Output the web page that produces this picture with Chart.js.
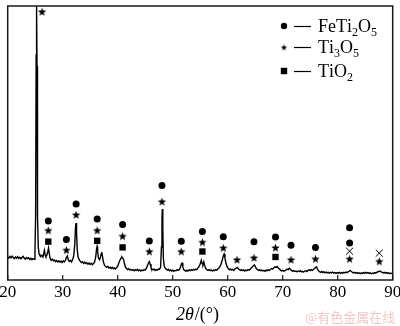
<!DOCTYPE html>
<html><head><meta charset="utf-8">
<script src="https://cdn.jsdelivr.net/npm/chart.js@4"></script>
<style>html,body{margin:0;padding:0;background:#fff}#c{display:block}</style>
</head><body>
<canvas id="c" width="400" height="326"></canvas>
<script>
// ---- XRD pattern (2θ in degrees, intensity in arbitrary units) ----
const twoTheta = [
20.00,20.20,20.40,20.60,20.80,21.00,21.20,21.40,21.60,21.80,
22.00,22.20,22.40,22.60,22.80,23.00,23.20,23.40,23.60,23.80,
24.00,24.20,24.40,24.60,24.80,24.95,25.08,25.17,25.22,25.28,
25.33,25.42,25.56,25.70,25.85,26.00,26.20,26.40,26.55,26.68,
26.80,26.95,27.10,27.30,27.42,27.55,27.70,27.90,28.10,28.30,
28.50,28.70,28.90,29.10,29.30,29.50,29.70,29.90,30.10,30.30,
30.50,30.70,30.85,31.00,31.20,31.40,31.60,31.80,32.00,32.20,
32.32,32.42,32.52,32.65,32.80,33.00,33.20,33.40,33.60,33.80,
34.00,34.20,34.40,34.60,34.80,35.00,35.20,35.40,35.60,35.80,
36.00,36.15,36.25,36.35,36.50,36.70,36.85,37.00,37.10,37.22,
37.40,37.60,37.80,38.00,38.20,38.40,38.60,38.80,39.00,39.20,
39.40,39.60,39.80,40.00,40.20,40.40,40.60,40.75,40.90,41.05,
41.20,41.40,41.60,41.80,42.00,42.20,42.40,42.60,42.80,43.00,
43.20,43.40,43.60,43.80,44.00,44.20,44.40,44.60,44.80,45.00,
45.20,45.40,45.60,45.75,45.90,46.05,46.20,46.40,46.60,46.80,
47.00,47.20,47.40,47.60,47.80,47.95,48.05,48.12,48.20,48.30,
48.45,48.60,48.80,49.00,49.20,49.40,49.60,49.80,50.00,50.20,
50.40,50.60,50.80,51.00,51.20,51.40,51.60,51.72,51.85,52.00,
52.20,52.40,52.60,52.80,53.00,53.20,53.40,53.60,53.80,54.00,
54.20,54.40,54.60,54.80,55.00,55.20,55.35,55.50,55.65,55.80,
56.00,56.20,56.40,56.60,56.80,57.00,57.20,57.40,57.60,57.80,
58.00,58.20,58.40,58.60,58.80,59.00,59.20,59.35,59.50,59.70,
59.90,60.10,60.30,60.50,60.70,60.90,61.10,61.30,61.50,61.70,
61.90,62.10,62.30,62.50,62.70,62.90,63.10,63.30,63.50,63.70,
63.90,64.10,64.30,64.50,64.70,64.85,65.00,65.20,65.40,65.60,
65.80,66.00,66.20,66.40,66.60,66.80,67.00,67.20,67.40,67.60,
67.80,68.00,68.20,68.40,68.60,68.80,69.00,69.20,69.40,69.60,
69.80,70.00,70.20,70.40,70.60,70.80,71.00,71.20,71.40,71.60,
71.80,72.00,72.20,72.40,72.60,72.80,73.00,73.20,73.40,73.60,
73.80,74.00,74.20,74.40,74.60,74.80,75.00,75.20,75.40,75.60,
75.80,76.00,76.15,76.30,76.50,76.70,76.90,77.10,77.30,77.50,
77.70,77.90,78.10,78.30,78.50,78.70,78.90,79.10,79.30,79.50,
79.70,79.90,80.10,80.30,80.50,80.70,80.90,81.10,81.30,81.50,
81.70,81.90,82.10,82.30,82.50,82.70,82.90,83.10,83.30,83.50,
83.70,83.90,84.10,84.30,84.50,84.70,84.90,85.10,85.30,85.50,
85.70,85.90,86.10,86.30,86.50,86.70,86.90,87.10,87.30,87.50,
87.70,87.90,88.10,88.30,88.50,88.70,88.90,89.10,89.30,89.50,
89.70,90.00];
const intensity = [
84,80,86,81,87,82,78,84,80,85,
79,83,77,82,86,80,76,82,78,81,
75,79,74,78,76,92,240,820,1000,1000,
780,230,120,96,90,86,90,84,96,108,
92,86,90,104,116,98,80,72,76,70,
73,67,71,66,70,65,69,64,70,66,
72,84,88,74,68,72,66,74,88,130,
190,208,170,110,84,74,68,64,67,61,
65,60,63,58,62,57,61,56,60,66,
84,112,122,104,80,74,82,96,102,88,
66,54,49,46,50,44,47,42,46,41,
44,40,45,50,62,72,80,84,80,76,
62,48,42,38,41,36,39,35,38,34,
38,35,39,34,37,33,36,34,38,36,
42,52,62,67,58,46,40,37,40,35,
38,36,40,39,46,120,230,259,190,80,
52,44,40,36,39,34,37,33,36,32,
35,34,38,35,38,46,60,62,48,38,
35,32,36,33,37,34,38,35,39,36,
40,38,44,50,58,72,60,56,66,54,
42,38,35,38,34,37,33,36,34,38,
36,40,44,50,58,72,88,95,80,60,
48,42,37,40,36,39,35,40,43,46,
42,38,35,38,34,37,33,36,34,38,
36,40,44,48,52,55,50,42,38,35,
37,34,36,33,35,32,36,34,37,35,
39,42,40,45,48,46,49,44,40,36,
33,35,32,34,36,40,38,43,39,35,
32,34,31,33,30,33,31,34,30,32,
29,32,34,31,35,37,34,38,35,39,
42,46,48,41,34,30,28,31,27,30,
26,29,26,28,25,28,26,29,25,27,
24,27,25,28,24,27,25,28,26,29,
27,30,32,34,31,28,26,28,25,27,
24,26,23,26,24,27,25,28,25,27,
24,26,23,25,24,27,25,28,30,31,
33,30,28,26,28,25,27,24,26,23,
25,24];

// ---- phase markers (2θ position, height at which the symbol sits) ----
const circleAngles  = [27.38,30.67,32.44,36.27,40.89,45.75,48.05,51.56,55.40,59.20,64.78,68.69,71.51,75.96,82.16,82.16];
const circleHeights = [215,148,277,223,203,142,345,141,177,158,140,157,127,119,191,135];
const starAngles    = [26.24,27.38,30.67,32.44,36.27,40.89,45.75,48.05,51.56,55.40,59.20,61.69,64.78,68.69,71.51,75.96,82.16,87.56];
const starHeights   = [980,182,110,239,182,161,105,287,105,139,118,75,82,119,75,78,78,69];
const squareAngles  = [27.38,36.27,40.89,55.40,68.69];
const squareHeights = [140,143,119,104,84];
const crossAngles   = [82.16,87.56];
const crossHeights  = [105,98];

const xTicks = [20,30,40,50,60,70,80,90];
const phaseNames = ['FeTi2O5','Ti3O5','TiO2'];
const phaseSymbols = ['circle','star','square'];
const xTitleItalic = '2\u03B8';
const xTitleRest = '/(\u00B0)';
const watermark = '@有色金属在线';

const SERIF = '"Liberation Serif","Times New Roman",serif';

function starImage(r){
  const s = Math.ceil(r*2+2);
  const c = document.createElement('canvas'); c.width = s; c.height = s;
  const g = c.getContext('2d'); g.fillStyle = '#000'; g.beginPath();
  for (let i=0;i<10;i++){
    const rad = (i%2) ? r*0.42 : r;
    const a = -Math.PI/2 + i*Math.PI/5;
    g.lineTo(s/2 + rad*Math.cos(a), s/2 + 0.6 + rad*Math.sin(a));
  }
  g.closePath(); g.fill();
  return c;
}
const STAR = starImage(4.4);
const STAR_SMALL = starImage(3.4);

const pts = (xs, ys) => xs.map((x,i)=>({x:x, y:ys[i]}));

const decor = {
  id:'decor',
  afterDraw(chart){
    const ctx = chart.ctx, a = chart.chartArea, xs = chart.scales.x;
    ctx.save();
    // frame
    ctx.strokeStyle = '#1a1a1a'; ctx.lineWidth = 1.5;
    ctx.strokeRect(a.left, a.top, a.right-a.left, a.bottom-a.top);
    // inward ticks
    ctx.lineWidth = 1.2;
    xTicks.forEach(v=>{
      const x = xs.getPixelForValue(v);
      ctx.beginPath(); ctx.moveTo(x, a.bottom); ctx.lineTo(x, a.bottom-5); ctx.stroke();
    });
    // legend
    const lx = 284, rowsY = [26, 47, 71];
    phaseNames.forEach((name, i)=>{
      const y = rowsY[i];
      ctx.fillStyle = '#000';
      const sym = phaseSymbols[i];
      if (sym==='circle'){ ctx.beginPath(); ctx.arc(lx, y, 3.2, 0, Math.PI*2); ctx.fill(); }
      else if (sym==='star'){ ctx.drawImage(STAR_SMALL, lx-STAR_SMALL.width/2, y-STAR_SMALL.height/2); }
      else { ctx.fillRect(lx-3.2, y-3.2, 6.4, 6.4); }
      ctx.lineWidth = 1.2; ctx.strokeStyle = '#000';
      ctx.beginPath(); ctx.moveTo(294, y+0.5); ctx.lineTo(311, y+0.5); ctx.stroke();
      let x = 318;
      ctx.textBaseline = 'alphabetic'; ctx.textAlign = 'left';
      const base = y + 6;
      for (const ch of name){
        if (/[0-9]/.test(ch)){
          ctx.font = '12px ' + SERIF;
          ctx.fillText(ch, x, base + 4);
          x += ctx.measureText(ch).width;
        } else {
          ctx.font = '18px ' + SERIF;
          ctx.fillText(ch, x, base);
          x += ctx.measureText(ch).width;
        }
      }
    });
    // x-axis title
    ctx.fillStyle = '#000'; ctx.textBaseline = 'middle';
    ctx.font = 'italic 18px ' + SERIF;
    const w1 = ctx.measureText(xTitleItalic).width;
    ctx.font = '18px ' + SERIF;
    const w2 = ctx.measureText(xTitleRest).width;
    let tx = 197 - (w1+w2)/2;
    ctx.font = 'italic 18px ' + SERIF; ctx.fillText(xTitleItalic, tx, 315);
    ctx.font = '18px ' + SERIF; ctx.fillText(xTitleRest, tx + w1 + 1, 315);
    // watermark
    ctx.fillStyle = 'rgba(232,150,150,0.55)';
    ctx.font = '13px "Noto Sans CJK SC", sans-serif';
    ctx.fillText(watermark, 305, 317);
    ctx.restore();
  }
};

new Chart(document.getElementById('c'), {
  type: 'scatter',
  data: {
    datasets: [
      { type:'line', data: pts(twoTheta, intensity), borderColor:'#000', borderWidth:1.4,
        pointRadius:0, tension:0, fill:false },
      { data: pts(circleAngles, circleHeights), pointStyle:'circle', pointRadius:3.5,
        backgroundColor:'#000', borderColor:'#000', borderWidth:0, clip:false },
      { data: pts(starAngles, starHeights), pointStyle: STAR, clip:false },
      { data: pts(squareAngles, squareHeights), pointStyle:'rect', pointRadius:4.5,
        backgroundColor:'#000', borderColor:'#000', borderWidth:0, clip:false },
      { data: pts(crossAngles, crossHeights), pointStyle:'crossRot', pointRadius:5,
        backgroundColor:'#000', borderColor:'#000', borderWidth:1, clip:false }
    ]
  },
  options: {
    responsive:false, animation:false, devicePixelRatio:1,
    layout:{ padding:{ top:1, left:0, right:0, bottom:0 } },
    plugins:{ legend:{display:false}, tooltip:{enabled:false}, title:{display:false} },
    scales:{
      x:{ type:'linear', min:20, max:90,
        afterBuildTicks: s => { s.ticks = xTicks.map(v=>({value:v})); },
        grid:{ display:false, drawTicks:false }, border:{ display:false },
        ticks:{ color:'#000', font:{ family:'Liberation Serif', size:17 }, padding:2,
          maxRotation:0, autoSkip:false },
        afterFit: s => { s.height = 46; s.paddingLeft = 7.7; s.paddingRight = 7.3; }
      },
      y:{ display:false, min:0, max:1000 }
    }
  },
  plugins:[decor]
});
</script>
</body></html>
